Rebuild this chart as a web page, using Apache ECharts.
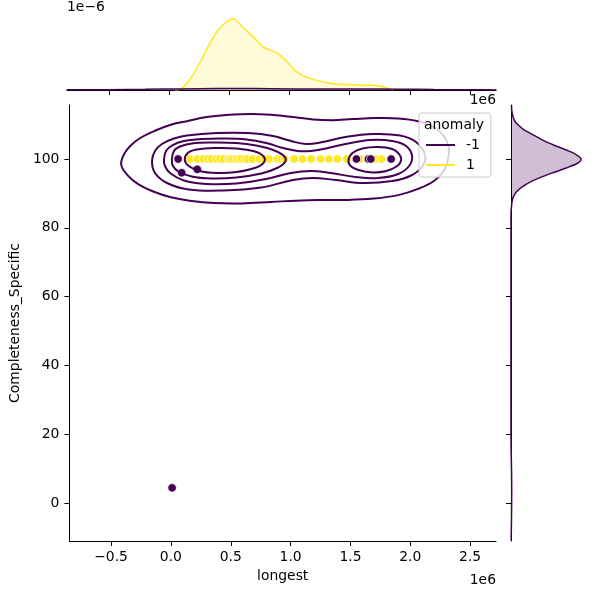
<!DOCTYPE html>
<html>
<head>
<meta charset="utf-8">
<script src="https://cdn.jsdelivr.net/npm/echarts@6/dist/echarts.min.js"></script>
<style>
  html, body { margin: 0; padding: 0; background: #fff; }
  #chart { width: 600px; height: 600px; }
</style>
</head>
<body>
<div id="chart"></div>
<script>
// x values are in units of 1e6 (the "1e6" offset text)
const xTicks = [-0.5, 0, 0.5, 1, 1.5, 2, 2.5]
const yTicks = [0, 20, 40, 60, 80, 100]

// anomaly = 1, all at Completeness_Specific = 100
const normalX = [0.16, 0.22, 0.27, 0.31, 0.34, 0.38, 0.41, 0.44, 0.48, 0.50, 0.52, 0.55, 0.57,
  0.59, 0.62, 0.64, 0.68, 0.74, 0.78, 0.82, 0.89, 0.92, 0.95, 1.03, 1.10, 1.17, 1.25, 1.32,
  1.39, 1.47, 1.58, 1.64, 1.71, 1.76]
const normalY = 100

// anomaly = -1
const anomalyPoints = [[0.06, 100], [0.09, 96], [0.22, 97], [1.55, 100], [1.65, 100],
  [1.67, 100], [1.84, 100], [0.01, 4.4]]

// kde contour lines of the anomaly = -1 group
const contourLevel1 = [[-0.415, 98.3], [-0.39, 101.5], [-0.34, 103.8], [-0.257, 106.1], [-0.141, 108.1],
  [-0.008, 109.9], [0.133, 111.0], [0.299, 112.2], [0.464, 112.8], [0.672, 113.1], [0.854, 112.8],
  [1.02, 112.2], [1.186, 111.5], [1.352, 111.3], [1.517, 111.6], [1.708, 111.9], [1.899, 111.8],
  [2.065, 111.0], [2.197, 109.3], [2.28, 106.7], [2.322, 103.2], [2.313, 99.7], [2.28, 96.5],
  [2.197, 93.6], [2.065, 91.3], [1.899, 89.5], [1.692, 88.5], [1.459, 88.1], [1.235, 88.1],
  [1.045, 87.9], [0.837, 87.5], [0.589, 87.1], [0.357, 87.2], [0.174, 87.8], [-0.008, 88.95],
  [-0.158, 90.7], [-0.274, 92.7], [-0.357, 95.1]]
const contourLevel2 = [[-0.158, 99.42], [-0.133, 102.33], [-0.075, 104.36], [0.025, 105.96], [0.133, 106.83],
  [0.381, 107.56], [0.647, 107.56], [0.854, 106.69], [1.003, 105.23], [1.128, 104.36], [1.269, 104.94],
  [1.459, 106.40], [1.692, 107.27], [1.915, 106.83], [2.048, 104.94], [2.123, 101.16], [2.098, 97.67],
  [1.998, 95.06], [1.849, 93.60], [1.609, 93.02], [1.376, 93.90], [1.186, 94.48], [1.020, 93.90],
  [0.755, 91.72], [0.439, 90.84], [0.149, 91.13], [-0.033, 93.02], [-0.133, 95.93]]
const contourLevel3 = [[-0.058, 99.71], [-0.041, 102.33], [0.008, 103.92], [0.108, 105.23], [0.257, 105.81],
  [0.439, 105.96], [0.630, 105.67], [0.796, 104.65], [0.937, 103.20], [1.061, 102.33], [1.169, 102.33],
  [1.294, 103.05], [1.459, 104.36], [1.667, 105.52], [1.849, 105.23], [1.965, 103.78], [2.015, 100.87],
  [1.990, 97.97], [1.899, 95.64], [1.733, 94.48], [1.542, 94.77], [1.335, 95.93], [1.169, 96.51],
  [1.003, 95.93], [0.796, 94.19], [0.547, 92.88], [0.299, 92.73], [0.108, 93.75], [-0.008, 95.93],
  [-0.050, 97.97]]
const contourLevel4Left = [[0.008, 99.71], [0.025, 102.33], [0.075, 103.63], [0.174, 104.51], [0.340, 104.80],
  [0.547, 104.65], [0.713, 103.92], [0.854, 102.62], [0.945, 100.87], [0.954, 99.13], [0.887, 97.38],
  [0.755, 95.78], [0.547, 94.62], [0.340, 94.33], [0.174, 94.91], [0.058, 96.51], [0.017, 97.97]]
const contourLevel4Right = [[1.484, 99.71], [1.517, 101.74], [1.600, 103.05], [1.733, 103.49], [1.849, 102.91],
  [1.907, 101.45], [1.924, 99.71], [1.891, 97.97], [1.799, 96.51], [1.683, 96.08], [1.567, 96.80],
  [1.501, 97.97]]
const contourLevel5 = [[0.116, 99.71], [0.141, 101.74], [0.216, 102.76], [0.381, 103.20], [0.547, 103.05],
  [0.688, 102.33], [0.771, 100.87], [0.779, 99.13], [0.713, 97.53], [0.547, 96.22], [0.381, 95.93],
  [0.240, 96.51], [0.149, 97.97]]

// marginal densities: top in units of 1e-6, [longest, density]
const topNormalKde = [[0.05, 0], [0.09, 0.01], [0.17, 0.179], [0.26, 0.506], [0.34, 0.841], [0.42, 1.109],
  [0.51, 1.265], [0.53, 1.28], [0.55, 1.265], [0.61, 1.132], [0.70, 0.954], [0.78, 0.775], [0.84, 0.716],
  [0.90, 0.662], [0.98, 0.506], [1.06, 0.327], [1.17, 0.209], [1.31, 0.131], [1.44, 0.102], [1.58, 0.089],
  [1.72, 0.084], [1.79, 0.048], [1.86, 0]]
const topAnomalyKde = [[-0.85, 0.003], [-0.5, 0.006], [-0.2, 0.012], [0.1, 0.02], [0.4, 0.026], [0.7, 0.025],
  [1.0, 0.02], [1.3, 0.017], [1.6, 0.019], [1.9, 0.015], [2.2, 0.008], [2.5, 0.004], [2.72, 0.002]]
// right: [density, Completeness_Specific]
const rightAnomalyKde = [[0.0001, 115.7], [0.0002, 113.7], [0.0007, 111.3], [0.0016, 109.8], [0.0029, 108.4],
  [0.0048, 107.0], [0.0068, 105.5], [0.0093, 104.0], [0.0119, 102.6], [0.0140, 101.3], [0.0151, 99.9],
  [0.0142, 98.7], [0.0119, 97.4], [0.0090, 96.0], [0.0061, 94.5], [0.0040, 93.2], [0.0024, 91.9],
  [0.0012, 90.5], [0.0005, 89.0], [0.0002, 87.5], [0.0001, 86.0], [0, 84], [0, 20], [0.00005, 14],
  [0.00012, 9], [0.00015, 4.4], [0.00014, 0], [0.0001, -5], [0.00003, -11]]

const PURPLE = '#440154'
const YELLOW = '#fde725'
const FONT = 'DejaVu Sans'
const FS = 13.9

const contourList = [contourLevel1, contourLevel2, contourLevel3, contourLevel4Left, contourLevel4Right, contourLevel5]

function fmtX (v) {
  return (v < 0 ? '\u2212' : '') + Math.abs(v).toFixed(1)
}

const axisLineStyle = {onZero: false, lineStyle: {color: '#000', width: 1}}
const tickStyle = {length: 5, lineStyle: {color: '#000', width: 1}}

let chart = echarts.init(document.getElementById('chart'))
let option = {
  animation: false,
  textStyle: {fontFamily: FONT},
  grid: [
    {left: 67, top: 105, width: 429, height: 436},
    {left: 67, top: 12, width: 429, height: 78},
    {left: 511, top: 105, width: 86, height: 436}
  ],
  xAxis: [
    {
      gridIndex: 0,
      type: 'value',
      min: -0.848,
      max: 2.716,
      name: 'longest',
      nameLocation: 'middle',
      nameGap: 28,
      nameTextStyle: {color: '#000', fontSize: FS, fontFamily: FONT},
      axisLine: axisLineStyle,
      axisTick: Object.assign({customValues: xTicks}, tickStyle),
      axisLabel: {customValues: xTicks, formatter: fmtX, color: '#000', fontSize: FS, margin: 9},
      splitLine: {show: false}
    },
    {
      gridIndex: 1,
      type: 'value',
      min: -0.848,
      max: 2.716,
      axisLine: axisLineStyle,
      axisTick: Object.assign({customValues: xTicks}, tickStyle),
      axisLabel: {show: false},
      splitLine: {show: false}
    },
    {gridIndex: 2, type: 'value', min: 0, max: 0.0185, show: false}
  ],
  yAxis: [
    {
      gridIndex: 0,
      type: 'value',
      min: -11.05,
      max: 115.7,
      name: 'Completeness_Specific',
      nameLocation: 'middle',
      nameGap: 41,
      nameTextStyle: {color: '#000', fontSize: FS, fontFamily: FONT},
      axisLine: axisLineStyle,
      axisTick: Object.assign({customValues: yTicks}, tickStyle),
      axisLabel: {customValues: yTicks, color: '#000', fontSize: FS, margin: 10},
      splitLine: {show: false}
    },
    {gridIndex: 1, type: 'value', min: 0, max: 1.4, show: false},
    {
      gridIndex: 2,
      type: 'value',
      min: -11.05,
      max: 115.7,
      axisLine: axisLineStyle,
      axisTick: Object.assign({customValues: yTicks}, tickStyle),
      axisLabel: {show: false},
      splitLine: {show: false}
    }
  ],
  legend: {
    z: 10,
    left: 419,
    top: 113,
    orient: 'vertical',
    padding: [25, 11, 5, 7],
    itemWidth: 29,
    itemHeight: 2,
    itemGap: 6,
    icon: 'rect',
    selectedMode: false,
    backgroundColor: 'rgba(255,255,255,0.8)',
    borderColor: '#cccccc',
    borderWidth: 1,
    borderRadius: 3,
    textStyle: {color: '#000', fontSize: FS, fontFamily: FONT, padding: [0, 0, 0, 6]},
    data: [
      {name: '-1', itemStyle: {color: PURPLE, borderWidth: 0, opacity: 1}},
      {name: '1', itemStyle: {color: YELLOW, borderWidth: 0, opacity: 1}}
    ]
  },
  graphic: [
    {type: 'text', z: 20, style: {text: 'anomaly', x: 454, y: 125, align: 'center', verticalAlign: 'middle', fontSize: FS, fontFamily: FONT, fill: '#000'}},
    {type: 'text', z: 20, style: {text: '1e6', x: 496, y: 580, align: 'right', verticalAlign: 'middle', fontSize: FS, fontFamily: FONT, fill: '#000'}},
    {type: 'text', z: 20, style: {text: '1e6', x: 496, y: 100, align: 'right', verticalAlign: 'middle', fontSize: FS, fontFamily: FONT, fill: '#000'}},
    {type: 'text', z: 20, style: {text: '1e\u22126', x: 67, y: 7, align: 'left', verticalAlign: 'middle', fontSize: FS, fontFamily: FONT, fill: '#000'}}
  ],
  series: [
    {
      name: '1',
      type: 'scatter',
      xAxisIndex: 0,
      yAxisIndex: 0,
      z: 3,
      symbolSize: 8.5,
      itemStyle: {color: YELLOW, borderColor: '#fff', borderWidth: 0.75, opacity: 1},
      data: normalX.map(x => [x, normalY])
    },
    {
      name: '-1',
      type: 'scatter',
      xAxisIndex: 0,
      yAxisIndex: 0,
      z: 4,
      symbolSize: 8.5,
      itemStyle: {color: PURPLE, borderColor: '#fff', borderWidth: 0.75, opacity: 1},
      data: anomalyPoints
    },
    {
      name: '-1',
      type: 'custom',
      xAxisIndex: 0,
      yAxisIndex: 0,
      z: 5,
      silent: true,
      data: contourList.map(() => [0.5, 100]),
      renderItem: (params, api) => ({
        type: 'polygon',
        shape: {points: contourList[params.dataIndex].map(p => api.coord(p)), smooth: 0.4},
        style: {fill: 'none', stroke: PURPLE, lineWidth: 2}
      })
    },
    {
      name: '1',
      type: 'line',
      xAxisIndex: 1,
      yAxisIndex: 1,
      showSymbol: false,
      smooth: 0.3,
      lineStyle: {color: YELLOW, width: 1.5},
      itemStyle: {color: YELLOW},
      areaStyle: {color: 'rgba(253,231,37,0.25)'},
      data: topNormalKde
    },
    {
      name: '-1',
      type: 'line',
      xAxisIndex: 1,
      yAxisIndex: 1,
      showSymbol: false,
      smooth: 0.3,
      lineStyle: {color: PURPLE, width: 1.5},
      itemStyle: {color: PURPLE},
      areaStyle: {color: 'rgba(68,1,84,0.25)'},
      data: topAnomalyKde
    },
    {
      name: '-1',
      type: 'custom',
      xAxisIndex: 2,
      yAxisIndex: 2,
      silent: true,
      data: [[0, 100]],
      renderItem: (params, api) => {
        let curve = rightAnomalyKde.map(p => api.coord(p))
        let fillPts = [api.coord([0, rightAnomalyKde[0][1]])].concat(curve)
          .concat([api.coord([0, rightAnomalyKde[rightAnomalyKde.length - 1][1]])])
        return {
          type: 'group',
          children: [
            {type: 'polygon', shape: {points: fillPts, smooth: 0.3}, style: {fill: 'rgba(68,1,84,0.25)'}},
            {type: 'polyline', shape: {points: curve, smooth: 0.3}, style: {fill: 'none', stroke: PURPLE, lineWidth: 1.5}}
          ]
        }
      }
    }
  ]
}
chart.setOption(option)
window.addEventListener('resize', () => {
  chart.resize()
})
</script>
</body>
</html>
